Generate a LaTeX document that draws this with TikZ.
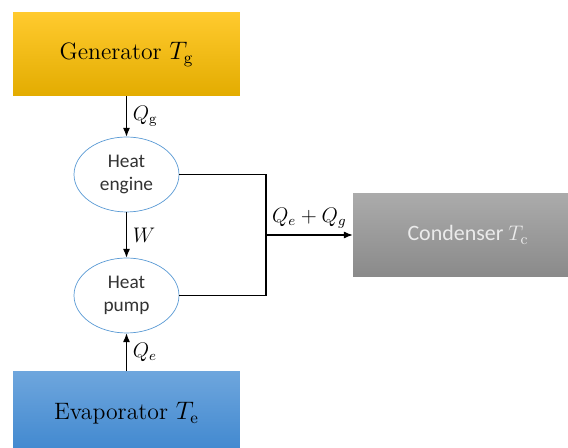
\documentclass[tikz,border=0pt]{standalone}
\usepackage{fontspec}
\setsansfont{Carlito}
\usetikzlibrary{arrows.meta,shapes.geometric}

\definecolor{genTop}{HTML}{FFCA2E}
\definecolor{genBot}{HTML}{E3AC00}
\definecolor{evapTop}{HTML}{6EA6DD}
\definecolor{evapBot}{HTML}{3F87CF}
\definecolor{condTop}{HTML}{ABABAB}
\definecolor{condBot}{HTML}{8A8A8A}
\definecolor{ringBlue}{HTML}{5B9BD5}

\begin{document}
\begin{tikzpicture}[
    x=0.02cm, y=-0.02cm,
    >={Latex[length=5pt,width=4pt]},
    tank/.style={rectangle, minimum width=4.54cm, minimum height=1.66cm,
        font=\fontsize{13.5}{16}\selectfont},
    cycle/.style={ellipse, draw=ringBlue, thin, fill=white,
        minimum width=2.1cm, minimum height=1.5cm, inner sep=0pt,
        align=center, text=black!80,
        font=\sffamily\fontsize{11}{13.5}\selectfont},
    flow/.style={->, semithick, black},
    lbl/.style={font=\large},
]
\useasboundingbox (0,0) rectangle (568,448);
\clip (0,0) rectangle (568,448);

% reservoirs
\node[tank, top color=genTop, bottom color=genBot] (gen) at (126.5,54.5)
    {Generator $T_{\mathrm{g}}$};
\node[tank, top color=evapTop, bottom color=evapBot] (evap) at (126.5,413)
    {Evaporator $T_{\mathrm{e}}$};
\node[tank, minimum width=4.6cm, top color=condTop, bottom color=condBot,
    text=white!92!black, font=\sffamily\fontsize{12.5}{15}\selectfont]
    (cond) at (468,235) {Condenser $T_{\mathrm{c}}$};

% engine and pump
\node[cycle] (eng) at (126.5,174.5) {Heat\\engine};
\node[cycle] (pump) at (126.5,295.5) {Heat\\pump};

% heat and work flows
\draw[flow] (gen) -- (eng)
    node[midway, right, lbl] {$Q_{\mathrm{g}}$};
\draw[flow] (eng) -- (pump)
    node[midway, right, lbl] {$W$};
\draw[flow] (evap) -- (pump)
    node[midway, right, lbl] {$Q_e$};

% rejected heat to condenser
\coordinate (join) at (266,235);
\draw[semithick] (eng.east) -| (join) |- (pump.east);
\draw[flow] (join) -- (cond.west)
    node[midway, above, lbl] {$Q_e + Q_g$};

\end{tikzpicture}
\end{document}
